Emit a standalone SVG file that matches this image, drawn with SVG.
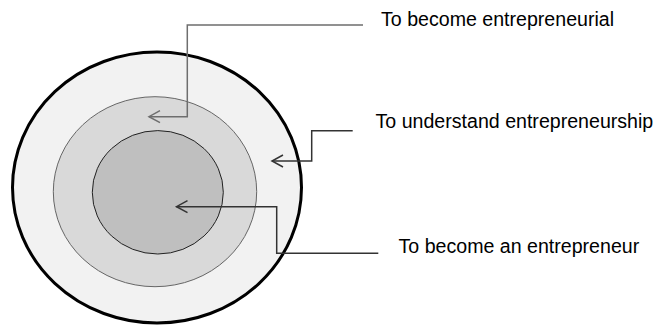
<svg xmlns="http://www.w3.org/2000/svg" width="655" height="325" viewBox="0 0 655 325">
<style>
.lbl{font-family:"Liberation Sans",Arial,sans-serif;font-size:19.6px;fill:#000}
.conn{fill:none;stroke-width:1.5}
</style>
<defs>
<marker id="chevG" markerUnits="userSpaceOnUse" viewBox="-14 -8 16 16" refX="0" refY="0" markerWidth="16" markerHeight="16" orient="auto" overflow="visible">
<path d="M-11,-6 L0,0 L-11,6" fill="none" stroke="#6e6e6e" stroke-width="1.5"/>
</marker>
<marker id="chevD" markerUnits="userSpaceOnUse" viewBox="-14 -8 16 16" refX="0" refY="0" markerWidth="16" markerHeight="16" orient="auto" overflow="visible">
<path d="M-11,-6 L0,0 L-11,6" fill="none" stroke="#333" stroke-width="1.5"/>
</marker>
</defs>
<g id="outer">
<ellipse cx="157" cy="187.5" rx="144.5" ry="135.5" fill="#f2f2f2" stroke="#000" stroke-width="3"/>
</g>
<g id="middle">
<ellipse cx="155" cy="191.7" rx="101.7" ry="95" fill="#d9d9d9" stroke="#666" stroke-width="1"/>
</g>
<g id="inner">
<ellipse cx="157.8" cy="192.3" rx="65.5" ry="61.7" fill="#bfbfbf" stroke="#222" stroke-width="1"/>
</g>
<g id="connectors">
<path class="conn" d="M363,25 H187.3 V116.7 H149" stroke="#6e6e6e" marker-end="url(#chevG)"/>
<path class="conn" d="M352.7,130.7 H311.7 V161 H272" stroke="#333" marker-end="url(#chevD)"/>
<path class="conn" d="M378.3,253.3 H276.7 V206.7 H176.5" stroke="#333" marker-end="url(#chevD)"/>
</g>
<g id="label1"><text class="lbl" x="381" y="26">To become entrepreneurial</text></g>
<g id="label2"><text class="lbl" x="375.5" y="128.3">To understand entrepreneurship</text></g>
<g id="label3"><text class="lbl" x="398.5" y="253">To become an entrepreneur</text></g>
</svg>
